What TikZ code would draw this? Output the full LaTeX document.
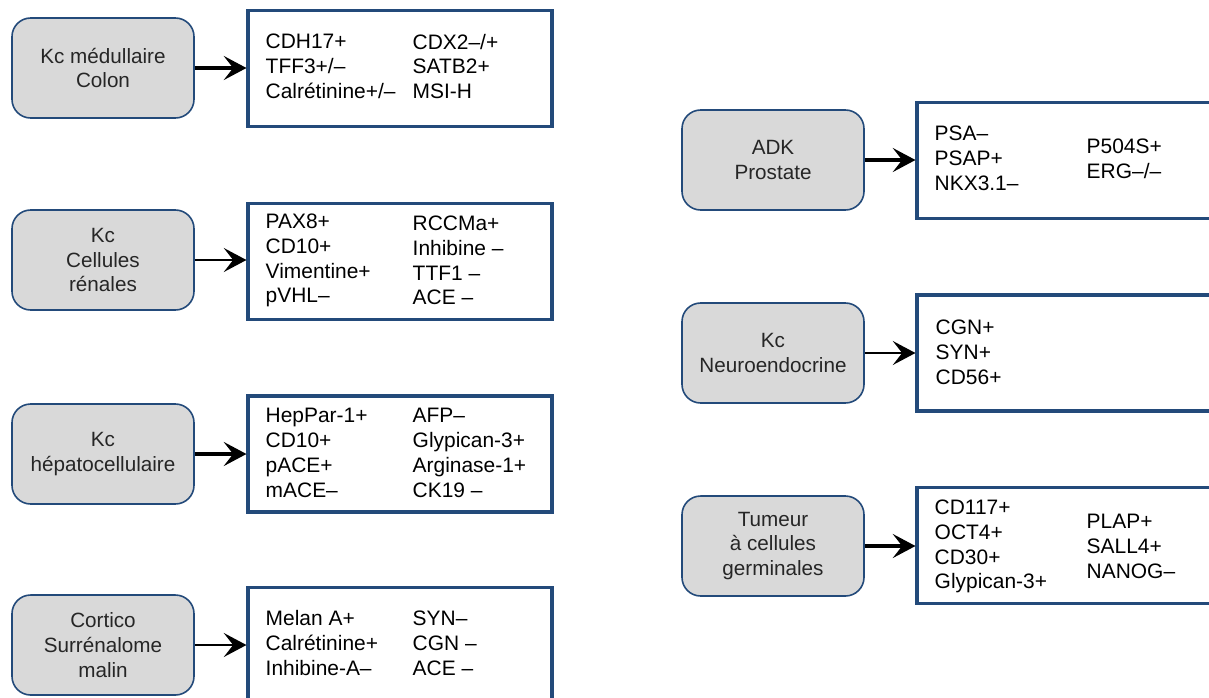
\documentclass[tikz,border=0pt]{standalone}
\usepackage{fontspec}
\setmainfont{Liberation Sans}
\usetikzlibrary{arrows.meta,calc}
\definecolor{edgeblue}{RGB}{35,74,122}
\definecolor{boxgray}{RGB}{217,217,217}
\tikzset{
  tumour/.style={draw=edgeblue, line width=1.2pt, fill=boxgray, rounded corners=14pt,
    minimum width=136.5pt, minimum height=75pt, inner sep=0pt, align=center,
    text=black!85, font=\fontsize{15.5}{18.6}\selectfont},
  panel/.style={draw=edgeblue, line width=2.3pt, fill=white,
    minimum width=228pt, minimum height=87pt, inner sep=0pt},
  markers/.style={anchor=west, inner sep=0pt, align=left,
    font=\fontsize{15.7}{18.6}\selectfont},
  thickarrow/.style={line width=2.4pt, -{Stealth[length=17pt,width=18pt,inset=7pt]}},
  thinarrow/.style={line width=1.6pt, -{Stealth[length=17pt,width=18pt,inset=7pt]}},
}
\begin{document}
\begin{tikzpicture}[x=0.75pt,y=-0.75pt]
\useasboundingbox (0,0) rectangle (1209,697);
\clip (0,0) rectangle (1209,697);

% left column: tumour types
\node[tumour] (g1) at (103,68)  {Kc médullaire\\Colon};
\node[tumour] (g2) at (103,260) {Kc\\Cellules\\rénales};
\node[tumour] (g3) at (103,454) {Kc\\hépatocellulaire};
\node[tumour] (g4) at (103,645) {Cortico\\Surrénalome\\malin};

% left column: marker panels
\node[panel] (w1) at (400,68.5) {};
\node[panel] (w2) at (400,261.5) {};
\node[panel] (w3) at (400,454) {};
\node[panel] (w4) at (400,645.5) {};

% right column: tumour types
\node[tumour] (g5) at (773,160) {ADK\\Prostate};
\node[tumour] (g6) at (773,353) {Kc\\Neuroendocrine};
\node[tumour] (g7) at (773,546) {Tumeur\\à cellules\\germinales};

% right column: marker panels (run past the right edge)
\node[panel] (w5) at (1069,160.5) {};
\node[panel] (w6) at (1069,353) {};
\node[panel] (w7) at (1069,545.5) {};

% marker lists
\node[markers] (t1a) at ($(w1.west)+(19,-2)$) {CDH17+\\TFF3+/–\\Calrétinine+/–};
\node[markers] (t1b) at ($(w1.west)+(166,-2)$) {CDX2–/+\\SATB2+\\MSI-H};
\node[markers] (t2a) at ($(w2.west)+(19,-1)$) {PAX8+\\CD10+\\Vimentine+\\pVHL–};
\node[markers] (t2b) at ($(w2.west)+(166,-1)$) {RCCMa+\\Inhibine –\\TTF1 –\\ACE –};
\node[markers] (t3a) at ($(w3.west)+(19,-1)$) {HepPar-1+\\CD10+\\pACE+\\mACE–};
\node[markers] (t3b) at ($(w3.west)+(166,-1)$) {AFP–\\Glypican-3+\\Arginase-1+\\CK19 –};
\node[markers] (t4a) at ($(w4.west)+(19,-2.5)$) {Melan A+\\Calrétinine+\\Inhibine-A–};
\node[markers] (t4b) at ($(w4.west)+(166,-2.5)$) {SYN–\\CGN –\\ACE –};
\node[markers] (t5a) at ($(w5.west)+(19,-2)$) {PSA–\\PSAP+\\NKX3.1–};
\node[markers] (t5b) at ($(w5.west)+(171,-2)$) {P504S+\\ERG–/–};
\node[markers] (t6a) at ($(w6.west)+(20,-1)$) {CGN+\\SYN+\\CD56+};
\node[markers] (t7a) at ($(w7.west)+(19,1)$) {CD117+\\OCT4+\\CD30+\\Glypican-3+};
\node[markers] (t7b) at ($(w7.west)+(171,1)$) {PLAP+\\SALL4+\\NANOG–};

% connectors
\draw[thickarrow] (g1.east) -- (g1.east -| w1.west);
\draw[thinarrow]  (g2.east) -- (g2.east -| w2.west);
\draw[thickarrow] (g3.east) -- (g3.east -| w3.west);
\draw[thinarrow]  (g4.east) -- (g4.east -| w4.west);
\draw[thickarrow] (g5.east) -- (g5.east -| w5.west);
\draw[thinarrow]  (g6.east) -- (g6.east -| w6.west);
\draw[thickarrow] (g7.east) -- (g7.east -| w7.west);
\end{tikzpicture}
\end{document}
